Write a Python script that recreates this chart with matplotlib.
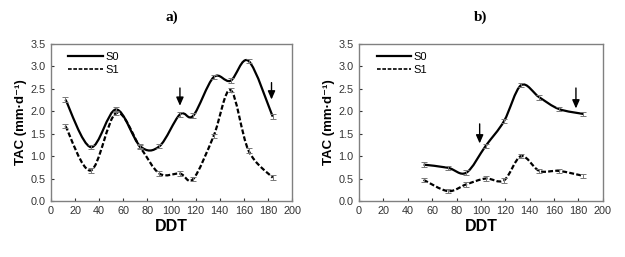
import matplotlib
matplotlib.use("Agg")
from matplotlib import pyplot as plt
from matplotlib.path import Path
from matplotlib.patches import PathPatch

# panel a
a_x = [12, 33, 54, 74, 90, 107, 118, 135, 149, 164, 184]
a_s0 = [2.26, 1.20, 2.04, 1.22, 1.22, 1.93, 1.90, 2.76, 2.68, 3.12, 1.88]
a_s1 = [1.67, 0.68, 1.96, 1.20, 0.61, 0.61, 0.49, 1.45, 2.47, 1.12, 0.52]

# panel b
b_x = [53, 73, 88, 104, 119, 133, 148, 164, 184]
b_s0 = [0.81, 0.74, 0.63, 1.23, 1.78, 2.58, 2.31, 2.05, 1.94]
b_s1 = [0.47, 0.22, 0.37, 0.50, 0.46, 1.00, 0.67, 0.67, 0.56]

err = 0.05

# arrows: x, top, tip
a_arrows = [(107, 2.58, 2.06), (183, 2.70, 2.20)]
b_arrows = [(99, 1.78, 1.22), (178, 2.58, 2.00)]


def smooth_path(xs, ys):
    # excel-like smoothed line, cubic bezier through the points
    pts = list(zip(xs, ys))
    n = len(pts)
    verts = [pts[0]]
    codes = [Path.MOVETO]
    for i in range(n - 1):
        p0 = pts[i - 1] if i > 0 else pts[i]
        p1 = pts[i]
        p2 = pts[i + 1]
        p3 = pts[i + 2] if i + 2 < n else pts[i + 1]
        c1 = (p1[0] + (p2[0] - p0[0]) / 6, p1[1] + (p2[1] - p0[1]) / 6)
        c2 = (p2[0] - (p3[0] - p1[0]) / 6, p2[1] - (p3[1] - p1[1]) / 6)
        verts += [c1, c2, p2]
        codes += [Path.CURVE4] * 3
    return Path(verts, codes)


def draw_panel(ax, xs, s0, s1, arrows, title):
    ax.add_patch(PathPatch(smooth_path(xs, s0), fill=False, color="black", lw=1.6))
    ax.add_patch(PathPatch(smooth_path(xs, s1), fill=False, color="black", lw=1.6,
                           linestyle=(0, (2.2, 1.0))))
    ax.errorbar(xs, s0, yerr=err, fmt="none", ecolor="#777777", elinewidth=0.7, capsize=2, capthick=0.7)
    ax.errorbar(xs, s1, yerr=err, fmt="none", ecolor="#777777", elinewidth=0.7, capsize=2, capthick=0.7)
    for x, top, tip in arrows:
        ax.annotate("", xy=(x, tip), xytext=(x, top),
                    arrowprops=dict(arrowstyle="-|>,head_width=0.22,head_length=0.5", color="black", lw=1.0))

    ax.plot([], [], color="black", lw=1.6, label="S0")
    ax.plot([], [], color="black", lw=1.2, linestyle=(0, (2.2, 1.0)), label="S1")
    ax.legend(loc="upper left", frameon=False, fontsize=8, handlelength=3.1, handletextpad=0.2,
              labelspacing=0.3, borderaxespad=0.3, bbox_to_anchor=(0.04, 1.0))

    ax.set_xlim(0, 200)
    ax.set_ylim(0, 3.5)
    ax.set_xticks(range(0, 201, 20))
    ax.set_yticks([i * 0.5 for i in range(8)])
    ax.set_yticklabels(["%.1f" % (i * 0.5) for i in range(8)])
    ax.tick_params(direction="in", length=2.5, labelsize=7.8, colors="#333333", width=0.8)
    ax.tick_params(axis="y", pad=4)
    for sp in ax.spines.values():
        sp.set_color("#808080")
        sp.set_linewidth(1.0)
    ax.set_xlabel("DDT", fontsize=11.5, fontweight="bold", labelpad=2)
    ax.set_ylabel("TAC (mm·d⁻¹)", fontsize=9.5, fontweight="bold", labelpad=2)
    ax.set_title(title, fontsize=11, fontweight="bold", family="Liberation Serif", pad=17)


plt.rcParams["font.family"] = ["Liberation Sans", "DejaVu Sans"]
fig = plt.figure(figsize=(6.25, 2.57), dpi=100)
ax1 = fig.add_axes([0.0816, 0.218, 0.3856, 0.611])
ax2 = fig.add_axes([0.5744, 0.218, 0.390, 0.611])

draw_panel(ax1, a_x, a_s0, a_s1, a_arrows, "a)")
draw_panel(ax2, b_x, b_s0, b_s1, b_arrows, "b)")

fig.savefig("out.png", dpi=100)
plt.close(fig)
